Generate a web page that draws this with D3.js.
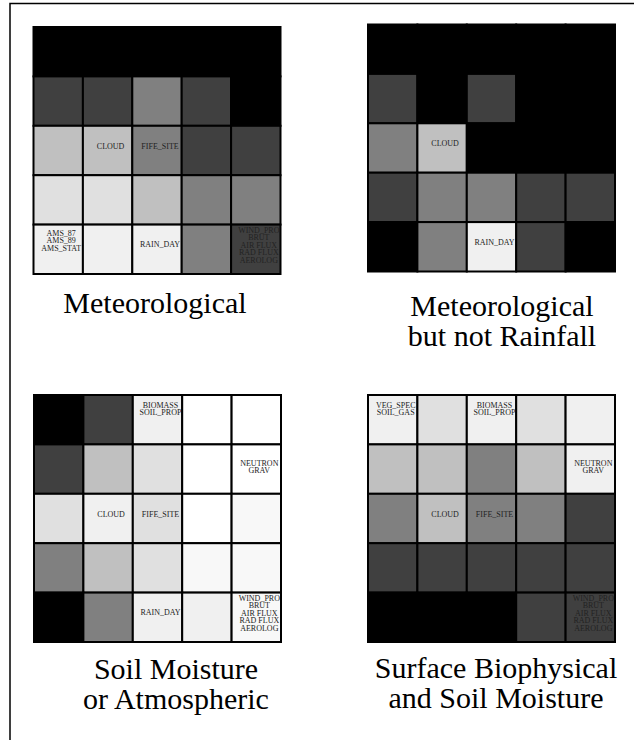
<!DOCTYPE html>
<html>
<head>
<meta charset="UTF-8">
<title>Category grids</title>
<style type="text/css">
	body{
		margin: 0;
		background: #fff;
	}
</style>
</head>
<body>
<script src="https://cdnjs.cloudflare.com/ajax/libs/d3/7.8.5/d3.min.js"></script>
<script>
// gray level of each cell, 0 = black ... 7 = white, rows top to bottom
var meteo = [
	[0, 0, 0, 0, 0],
	[1, 1, 2, 1, 0],
	[3, 3, 2, 1, 1],
	[4, 4, 3, 2, 2],
	[5, 5, 5, 2, 1]
];
var meteoNoRain = [
	[0, 0, 0, 0, 0],
	[1, 0, 1, 0, 0],
	[2, 3, 0, 0, 0],
	[1, 2, 2, 1, 1],
	[0, 2, 5, 1, 0]
];
var soilOrAtmo = [
	[0, 1, 5, 7, 7],
	[1, 3, 4, 7, 7],
	[4, 5, 4, 7, 6],
	[2, 3, 4, 6, 6],
	[0, 2, 5, 5, 6]
];
var surfSoil = [
	[5, 4, 5, 4, 5],
	[3, 3, 2, 3, 5],
	[2, 3, 2, 2, 1],
	[1, 1, 1, 1, 1],
	[0, 0, 0, 1, 1]
];

var levels = [0, 1, 2, 3, 4, 5, 6, 7];
var grays = ["#000000", "#404040", "#808080", "#c0c0c0", "#e0e0e0", "#f0f0f0", "#f8f8f8", "#ffffff"];

// cell labels: [row, col, lines, placement]
var labelsMeteo = [
	[2, 1, ["CLOUD"], "mid"],
	[2, 2, ["FIFE_SITE"], "mid"],
	[4, 0, ["AMS_87", "AMS_89", "AMS_STAT"], "top"],
	[4, 2, ["RAIN_DAY"], "mid"],
	[4, 4, ["WIND_PRO", "BRUT", "AIR FLUX", "RAD FLUX", "AEROLOG"], "top"]
];
var labelsNoRain = [
	[2, 1, ["CLOUD"], "mid"],
	[4, 2, ["RAIN_DAY"], "mid"]
];
var labelsSoilAtmo = [
	[0, 2, ["BIOMASS", "SOIL_PROP"], "top"],
	[1, 4, ["NEUTRON", "GRAV"], "mid"],
	[2, 1, ["CLOUD"], "mid"],
	[2, 2, ["FIFE_SITE"], "mid"],
	[4, 2, ["RAIN_DAY"], "mid"],
	[4, 4, ["WIND_PRO", "BRUT", "AIR FLUX", "RAD FLUX", "AEROLOG"], "top"]
];
var labelsSurf = [
	[0, 0, ["VEG_SPEC", "SOIL_GAS"], "top"],
	[0, 2, ["BIOMASS", "SOIL_PROP"], "top"],
	[1, 4, ["NEUTRON", "GRAV"], "mid"],
	[2, 1, ["CLOUD"], "mid"],
	[2, 2, ["FIFE_SITE"], "mid"],
	[4, 4, ["WIND_PRO", "BRUT", "AIR FLUX", "RAD FLUX", "AEROLOG"], "top"]
];

var titles = [
	["Meteorological"],
	["Meteorological", "but not Rainfall"],
	["Soil Moisture", "or Atmospheric"],
	["Surface Biophysical", "and Soil Moisture"]
];

var width = 634;
var height = 740;
var size = 247;

// panel layout: grid origin and title anchor
var panels = [
	{grid: meteo, labels: labelsMeteo, x: 33.5, y: 27, tx: 155, ty: 313},
	{grid: meteoNoRain, labels: labelsNoRain, x: 368, y: 24.5, tx: 502, ty: 316},
	{grid: soilOrAtmo, labels: labelsSoilAtmo, x: 34, y: 395, tx: 176, ty: 679},
	{grid: surfSoil, labels: labelsSurf, x: 368, y: 395, tx: 496, ty: 678}
];

var color = d3.scaleOrdinal().domain(levels).range(grays);
var band = d3.scaleBand().domain(d3.range(5)).range([0, size]);

var canvas = d3.select("body").append("svg")
	.attr("width", width)
	.attr("height", height)
	.style("font-family", "'Liberation Serif'");

// frame on the left and top
canvas.append("path")
	.attr("d", "M10," + height + "V3.5H" + width)
	.attr("fill", "none")
	.attr("stroke", "black")
	.attr("stroke-width", 1.5);

var defs = canvas.append("defs");

panels.forEach(function(p, k){
	var g = canvas.append("g")
		.attr("transform", "translate(" + p.x + "," + p.y + ")");

	var cells = [];
	p.grid.forEach(function(row, r){
		row.forEach(function(v, c){ cells.push({r: r, c: c, v: v}); });
	});

	g.selectAll("rect")
		.data(cells)
		.enter()
			.append("rect")
			.attr("x", function(d){ return band(d.c); })
			.attr("y", function(d){ return band(d.r); })
			.attr("width", band.bandwidth())
			.attr("height", band.bandwidth())
			.attr("fill", function(d){ return color(d.v); })
			.attr("stroke", "black")
			.attr("stroke-width", 2);

	// labels, each clipped to its own cell
	p.labels.forEach(function(l, i){
		var id = "clip" + k + "_" + i;
		var cx = band(l[1]), cy = band(l[0]), bw = band.bandwidth();
		defs.append("clipPath").attr("id", id)
			.append("rect")
			.attr("x", cx).attr("y", cy)
			.attr("width", bw - 1).attr("height", bw);

		var n = l[2].length;
		var lh = 7.5;
		var y0;
		if (l[3] == "top") {
			y0 = cy + 8 + (5 - n) * 1.5;
		} else {
			y0 = cy + bw / 2 - 2 + (n - 1) * 2.5 - (n - 1) * lh / 2;
		}

		g.append("g")
			.attr("clip-path", "url(#" + id + ")")
			.selectAll("text")
			.data(l[2])
			.enter()
				.append("text")
				.attr("x", cx + bw / 2 + 3)
				.attr("y", function(d, j){ return y0 + j * lh; })
				.attr("text-anchor", "middle")
				.style("font-family", "'Liberation Serif'")
				.attr("font-size", "8px")
				.attr("fill", "#222")
				.text(function(d){ return d; });
	});

	canvas.append("g")
		.selectAll("text")
		.data(titles[k])
		.enter()
			.append("text")
			.attr("x", p.tx)
			.attr("y", function(d, j){ return p.ty + j * 29.5; })
			.attr("text-anchor", "middle")
			.style("font-family", "'Liberation Serif'")
			.attr("font-size", "30px")
			.attr("fill", "black")
			.text(function(d){ return d; });
});
</script>
</body>
</html>
